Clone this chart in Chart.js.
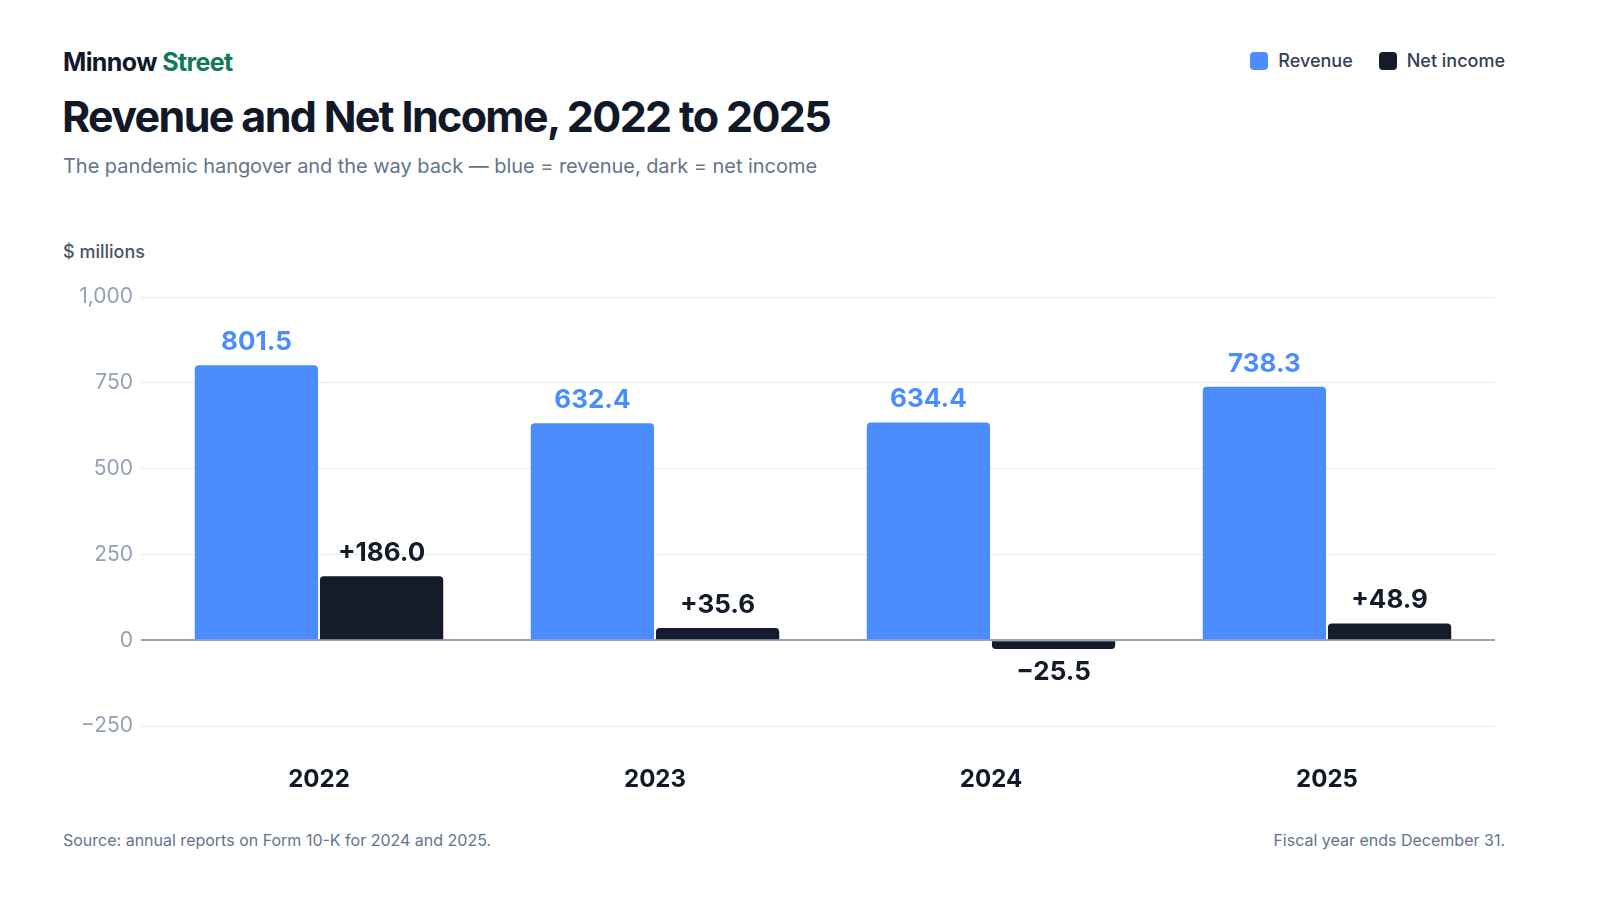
<!DOCTYPE html>
<html>
<head>
<meta charset="utf-8">
<script src="https://cdn.jsdelivr.net/npm/chart.js@4/dist/chart.umd.min.js"></script>
<style>
  html, body { margin: 0; padding: 0; background: #fff; }
  body { width: 1600px; height: 900px; position: relative; overflow: hidden; font-family: Inter, "Noto Sans", sans-serif; }
  .brand { position: absolute; left: 63px; top: 47px; font-size: 25px; font-weight: 700; letter-spacing: -0.6px; color: #111827; }
  .brand span { color: #0f7a55; }
  .title { position: absolute; left: 62px; top: 90px; font-size: 43px; font-weight: 700; letter-spacing: -1.65px; color: #111827; }
  .subtitle { position: absolute; left: 63px; top: 154px; font-size: 20px; color: #64748b; letter-spacing: -0.05px; }
  .unit { position: absolute; left: 63px; top: 241px; font-size: 18px; font-weight: 500; color: #4b5563; }
  .legend { position: absolute; right: 95px; top: 50px; display: flex; gap: 26px; font-size: 18px; color: #334155; font-weight: 500; }
  .legend div { display: flex; align-items: center; gap: 10px; }
  .legend i { display: inline-block; width: 18px; height: 18px; border-radius: 4px; }
  .foot { position: absolute; top: 830px; font-size: 16px; color: #64748b; }
  .chart { position: absolute; left: 60px; top: 270px; width: 1440px; height: 550px; }
</style>
</head>
<body>
<div class="brand">Minnow <span>Street</span></div>
<div class="title">Revenue and Net Income, 2022 to 2025</div>
<div class="subtitle">The pandemic hangover and the way back — blue = revenue, dark = net income</div>
<div class="unit">$ millions</div>
<div class="legend">
  <div><i style="background:#4b8dff"></i>Revenue</div>
  <div><i style="background:#141b2b"></i>Net income</div>
</div>
<div class="foot" style="left:63px">Source: annual reports on Form 10-K for 2024 and 2025.</div>
<div class="foot" style="right:95px">Fiscal year ends December 31.</div>
<div class="chart"><canvas id="chart"></canvas></div>
<script>
const years = ['2022', '2023', '2024', '2025']
const revenue = [801.5, 632.4, 634.4, 738.3]
const netIncome = [186.0, 35.6, -25.5, 48.9]
const yTicks = [-250, 0, 250, 500, 750, 1000]

const blue = '#4b8dff'
const dark = '#141b2b'

// draws the value above (or below, for losses) each bar
const valueLabels = {
  id: 'valueLabels',
  afterDatasetsDraw(chart) {
    const ctx = chart.ctx
    ctx.save()
    ctx.font = '700 26px Inter, sans-serif'
    ctx.textAlign = 'center'
    ctx.textBaseline = 'middle'
    chart.data.datasets.forEach((ds, i) => {
      chart.getDatasetMeta(i).data.forEach((bar, j) => {
        const v = ds.data[j]
        let txt = v.toFixed(1)
        if (i == 1) txt = (v >= 0 ? '+' : '\u2212') + Math.abs(v).toFixed(1)
        ctx.fillStyle = i == 0 ? blue : dark
        const y = v >= 0 ? bar.y - 23 : bar.y + 23
        ctx.fillText(txt, bar.x, y)
      })
    })
    ctx.restore()
  }
}

new Chart(document.getElementById('chart'), {
  type: 'bar',
  data: {
    labels: years,
    datasets: [
      { label: 'Revenue', data: revenue, backgroundColor: blue, borderRadius: 4, borderSkipped: 'start' },
      { label: 'Net income', data: netIncome, backgroundColor: dark, borderRadius: 4, borderSkipped: 'start' }
    ]
  },
  options: {
    responsive: true,
    maintainAspectRatio: false,
    animation: false,
    layout: { padding: { top: 27, right: 5, bottom: 0, left: 0 } },
    categoryPercentage: 0.745,
    barPercentage: 0.985,
    plugins: { legend: { display: false }, tooltip: { enabled: false } },
    scales: {
      x: {
        afterFit(scale) { scale.height = 94 },
        grid: { display: false },
        border: { display: false },
        ticks: { color: '#111827', font: { family: 'Inter', size: 24, weight: '700' }, padding: 31 }
      },
      y: {
        min: -250,
        max: 1000,
        afterFit(scale) { scale.width = 91 },
        afterBuildTicks(scale) { scale.ticks = yTicks.map(v => ({ value: v })) },
        border: { display: false },
        grid: {
          color: c => c.tick && c.tick.value === 0 ? '#9ca3b4' : '#e8ebf0',
          lineWidth: c => c.tick && c.tick.value === 0 ? 2 : 1,
          tickLength: 10
        },
        ticks: {
          color: '#94a0b4',
          padding: 8,
          font: { family: 'Inter', size: 21 },
          callback: v => v < 0 ? '\u2212' + Math.abs(v).toLocaleString('en-US') : v.toLocaleString('en-US')
        }
      }
    }
  },
  plugins: [valueLabels]
})
</script>
</body>
</html>
